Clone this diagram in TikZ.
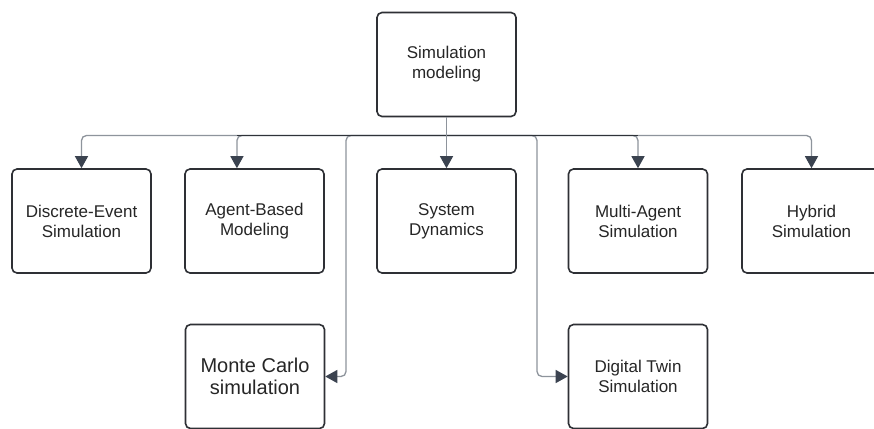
\documentclass[tikz,border=0pt]{standalone}
\usepackage{fontspec}
\setmainfont{Liberation Sans}
\usetikzlibrary{arrows.meta,calc}
\definecolor{boxline}{HTML}{2E3035}
\definecolor{edgegray}{HTML}{8E949C}
\definecolor{tipdark}{HTML}{3B4350}
\definecolor{bardark}{HTML}{2F3339}
\tikzset{
  box/.style={draw=boxline, line width=1.6pt, rounded corners=5pt, minimum width=139pt,
    minimum height=104pt, inner sep=0pt, align=center, fill=white,
    font=\fontsize{17}{20}\selectfont, text=black!85},
  bigtext/.style={font=\fontsize{20}{22.5}\selectfont},
  edge/.style={draw=edgegray, line width=1.3pt, rounded corners=5pt,
    -{Triangle[length=12pt,width=13pt,color=tipdark]}},
  darkbar/.style={draw=bardark, line width=1.5pt},
}
\begin{document}
\begin{tikzpicture}[x=1pt,y=-1pt]
\useasboundingbox (0,0) rectangle (874,428);
\clip (0,0) rectangle (874,428);
\fill[white] (0,0) rectangle (874,428);
% nodes
\node[box] (top) at (446.5,64.5) {Simulation\\modeling};
\node[box] (des) at (81.5,221) {Discrete-Event\\Simulation};
\node[box] (abm) at (254.5,221) {Agent-Based\\Modeling};
\node[box] (sd)  at (446.5,221) {System\\Dynamics};
\node[box] (mas) at (638,221) {Multi-Agent\\Simulation};
\node[box] (hyb) at (811.5,221) {Hybrid\\Simulation};
\node[box,bigtext] (mc) at (255,376.5) {Monte Carlo\\simulation};
\node[box] (dt) at (638,376.5) {Digital Twin\\Simulation};
% helper coordinates
\coordinate (j) at (446.5,135.5);
\coordinate (abmin) at ($(abm.north west)!0.375!(abm.north east)$);
\coordinate (mcturn) at (346,0);
\coordinate (dtturn) at (537,0);
% connectors
\draw[edge] (j) -| (des.north);
\draw[edge] (j) -| (abmin);
\draw[edge] (j) -| (mas.north);
\draw[edge] (j) -| (hyb.north);
\draw[edge] (j) -| (mcturn |- mc.east) -- (mc.east);
\draw[edge] (j) -| (dtturn |- dt.west) -- (dt.west);
\draw[darkbar] (abmin |- j) -- (mas.north |- j);
\draw[edge] (top.south) -- (sd.north);
\end{tikzpicture}
\end{document}
